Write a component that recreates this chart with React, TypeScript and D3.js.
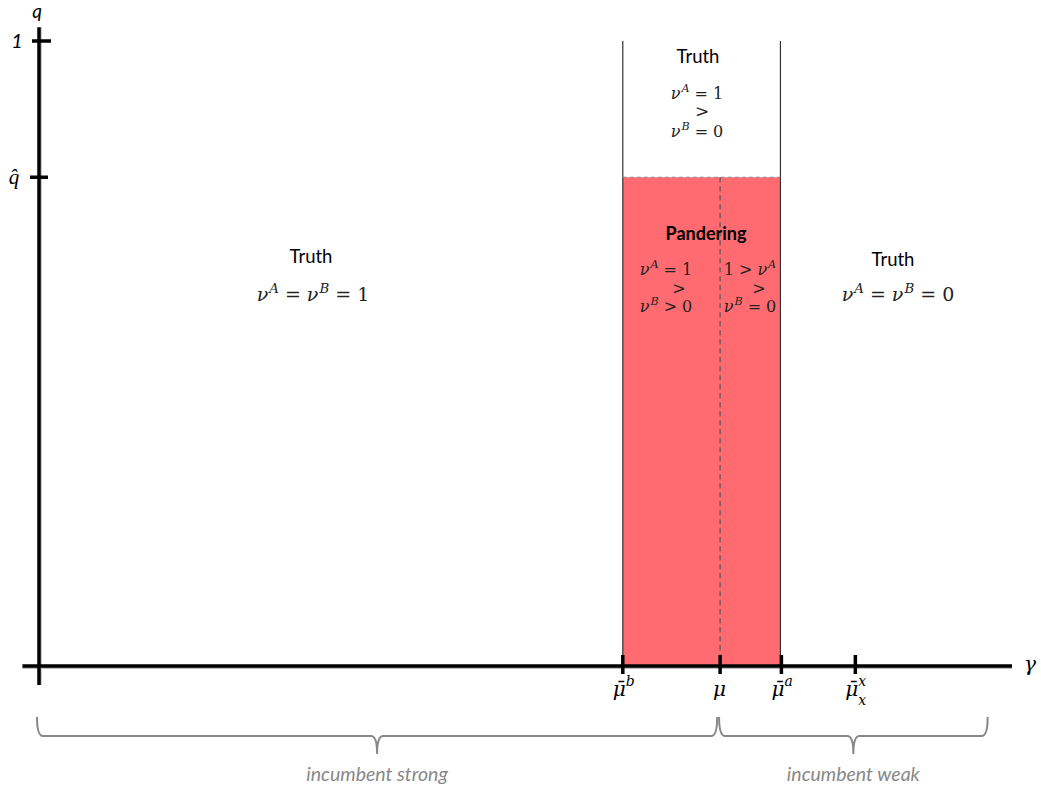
import React from "react";
import * as d3 from "d3";

// ---- data ----
const xDomain = [0, 1];
const yDomain = [0, 1];
const xAxisStart = -0.017;
const xAxisEnd = 1.0;
const yAxisTop = 1.022;
const gammaTicks = [
  { key: "mub", value: 0.6, base: "μ̄", sup: "b", sub: "" },
  { key: "mu", value: 0.7, base: "μ", sup: "", sub: "" },
  { key: "mua", value: 0.763, base: "μ̄", sup: "a", sub: "" },
  { key: "mux", value: 0.839, base: "μ̄", sup: "x", sub: "x" },
];
const qOne = 1;
const qHat = 0.782;
const panderLow = 0.6; // μ̄^b
const panderMid = 0.7; // μ
const panderHigh = 0.762; // μ̄^a
const braces = [
  { from: 0, to: 0.697, label: "incumbent strong" },
  { from: 0.701, to: 0.975, label: "incumbent weak" },
];
// math expressions: "v" = ν, "^X" = superscript, "=" and ">" operators
const mathLeft = ["v", "^A", "=", "v", "^B", "=", "1"];
const mathRight = ["v", "^A", "=", "v", "^B", "=", "0"];
const mathTopA = ["v", "^A", "=", "1"];
const mathTopB = ["v", "^B", "=", "0"];
const mathPanLA = ["v", "^A", "=", "1"];
const mathPanLB = ["v", "^B", ">", "0"];
const mathPanRA = ["1", ">", "v", "^A"];
const mathPanRB = ["v", "^B", "=", "0"];

const W = 1041;
const H = 790;
const x = d3.scaleLinear().domain(xDomain).range([39, 1012]);
const y = d3.scaleLinear().domain(yDomain).range([666, 41]);

const SERIF = "'DejaVu Serif', 'Liberation Serif', serif";
const MATH = "'DejaVu Serif', 'Liberation Serif', serif";
const SANS = "Lato, 'Open Sans', sans-serif";

function MathText({ cx, by, tokens, size = 16, gap = 5 }: { cx: number; by: number; tokens: string[]; size?: number; gap?: number }) {
  const parts: React.ReactNode[] = [];
  let raised = false;
  const lift = Math.round(size * 0.42);
  tokens.forEach((tk, i) => {
    const prev = tokens[i - 1];
    const prevOp = prev === "=" || prev === ">";
    if (tk.startsWith("^")) {
      parts.push(
        <tspan key={i} dy={-lift} dx={1} fontSize={size * 0.7} fontStyle="italic">{tk.slice(1)}</tspan>
      );
      raised = true;
      return;
    }
    const dy = raised ? lift : 0;
    raised = false;
    const isOp = tk === "=" || tk === ">";
    const dx = isOp || prevOp ? gap : 0;
    parts.push(
      <tspan key={i} dy={dy} dx={dx} fontStyle={tk === "v" ? "italic" : "normal"}>
        {tk === "v" ? "ν" : tk}
      </tspan>
    );
  });
  return (
    <text x={cx} y={by} textAnchor="middle" fontFamily={MATH} fontSize={size} fill="#222">
      {parts}
    </text>
  );
}

function bracePath(x0: number, x1: number, yTop: number, yLine: number, yTip: number) {
  const xm = (x0 + x1) / 2;
  const r = 6;
  return `M${x0},${yTop} Q${x0},${yLine} ${x0 + r},${yLine} H${xm - r} Q${xm},${yLine} ${xm},${yTip} Q${xm},${yLine} ${xm + r},${yLine} H${x1 - r} Q${x1},${yLine} ${x1},${yTop}`;
}

export default function App() {
  const x0 = x(0);
  const y0 = y(0);
  const xl = x(panderLow);
  const xm = x(panderMid);
  const xh = x(panderHigh);
  const yq = y(qHat);
  return (
    <svg width={W} height={H} style={{ position: "absolute", left: 0, top: 0, background: "#fff" }}>
      {/* pandering region */}
      <rect x={xl} y={yq} width={xh - xl} height={y0 - yq} fill="#FF6B70" />
      <line x1={xl} x2={xl} y1={y(qOne)} y2={y0} stroke="#333" strokeWidth={1.2} />
      <line x1={xh} x2={xh} y1={y(qOne)} y2={y0} stroke="#333" strokeWidth={1.2} />
      <line x1={xl} x2={xh} y1={yq} y2={yq} stroke="#888" strokeWidth={1.2} strokeDasharray="4,3" />
      <line x1={xm} x2={xm} y1={yq} y2={y0} stroke="#555" strokeWidth={1.2} strokeDasharray="5,4" />

      {/* axes shadows */}
      <line x1={x(xAxisStart)} x2={x(xAxisEnd)} y1={y0 + 2} y2={y0 + 2} stroke="#bbb" strokeWidth={2} />
      <line x1={x0 + 2} x2={x0 + 2} y1={y(yAxisTop)} y2={y0 + 19} stroke="#ccc" strokeWidth={2} />
      {/* axes */}
      <line x1={x(xAxisStart)} x2={x(xAxisEnd)} y1={y0} y2={y0} stroke="#000" strokeWidth={3.5} />
      <line x1={x0} x2={x0} y1={y(yAxisTop)} y2={y0 + 19} stroke="#000" strokeWidth={3.5} />

      {/* y ticks */}
      <line x1={x0 - 7} x2={x0 + 12} y1={y(qOne)} y2={y(qOne)} stroke="#000" strokeWidth={3.5} />
      <line x1={x0 - 9} x2={x0 + 9} y1={yq} y2={yq} stroke="#000" strokeWidth={3.5} />
      <text x={37} y={18} textAnchor="middle" fontFamily={SANS} fontStyle="italic" fontSize={19}>q</text>
      <text x={17} y={48} textAnchor="middle" fontFamily={SANS} fontStyle="italic" fontSize={20}>1</text>
      <text x={14} y={184} textAnchor="middle" fontFamily="'Liberation Serif', serif" fontStyle="italic" fontSize={21}>q̂</text>
      <text x={1030} y={671} textAnchor="middle" fontFamily={SERIF} fontStyle="italic" fontSize={20}>γ</text>

      {/* x ticks */}
      {gammaTicks.map((t) => {
        const bx = x(t.value) - (t.sup ? 10 : 7);
        return (
          <g key={t.key}>
            <line x1={x(t.value)} x2={x(t.value)} y1={y0 - 11} y2={y0 + 8} stroke="#000" strokeWidth={3.5} />
            <text x={bx} y={696} fontFamily={SERIF} fontStyle="italic" fontSize={20}>{t.base}</text>
            {t.sup && (
              <text x={bx + 13} y={686} fontFamily={SERIF} fontStyle="italic" fontSize={14}>{t.sup}</text>
            )}
            {t.sub && (
              <text x={bx + 13} y={705} fontFamily={SERIF} fontStyle="italic" fontSize={14}>{t.sub}</text>
            )}
          </g>
        );
      })}

      {/* region labels */}
      <text x={311} y={263} textAnchor="middle" fontFamily={SANS} fontSize={18.5}>Truth</text>
      <MathText cx={313} by={301} tokens={mathLeft} size={19} gap={6} />

      <text x={698} y={63} textAnchor="middle" fontFamily={SANS} fontSize={18.5}>Truth</text>
      <MathText cx={697} by={99} tokens={mathTopA} />
      <MathText cx={697} by={117} tokens={[">"]} size={17} />
      <MathText cx={697} by={137} tokens={mathTopB} />

      <text x={706} y={240} textAnchor="middle" fontFamily={SANS} fontWeight="bold" fontSize={18}>Pandering</text>
      <MathText cx={666} by={275} tokens={mathPanLA} />
      <MathText cx={674} by={294} tokens={[">"]} size={16} />
      <MathText cx={666} by={312} tokens={mathPanLB} />
      <MathText cx={750} by={275} tokens={mathPanRA} />
      <MathText cx={754} by={294} tokens={[">"]} size={16} />
      <MathText cx={750} by={312} tokens={mathPanRB} />

      <text x={893} y={266} textAnchor="middle" fontFamily={SANS} fontSize={18.5}>Truth</text>
      <MathText cx={898} by={301} tokens={mathRight} size={19} gap={6} />

      {/* braces */}
      {braces.map((b) => {
        const bx0 = x(b.from) - 2;
        const bx1 = x(b.to);
        return (
          <g key={b.label}>
            <path d={bracePath(bx0, bx1, 717, 736, 754)} fill="none" stroke="#888" strokeWidth={2} />
            <text x={(bx0 + bx1) / 2} y={781} textAnchor="middle" fontFamily={SANS} fontStyle="italic" fontSize={19.5} fill="#888">
              {b.label}
            </text>
          </g>
        );
      })}
    </svg>
  );
}
